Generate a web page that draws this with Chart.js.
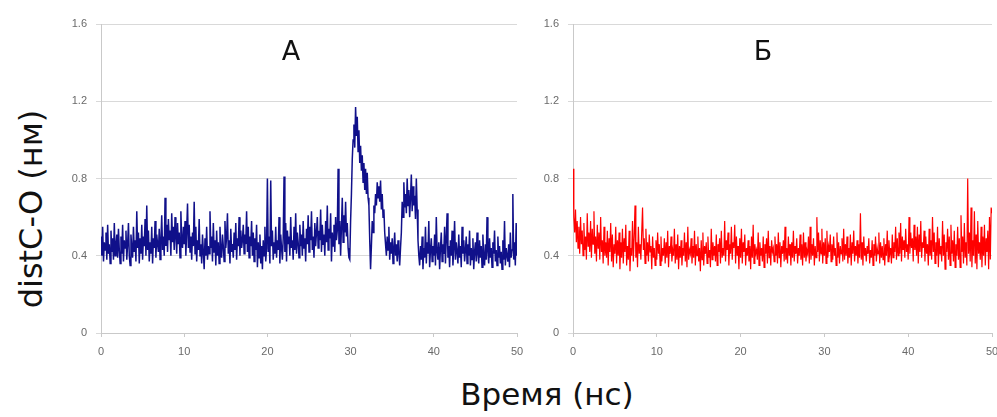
<!DOCTYPE html>
<html>
<head>
<meta charset="utf-8">
<script src="https://cdn.jsdelivr.net/npm/chart.js@4.4.1/dist/chart.umd.min.js"></script>
<style>
  html, body { margin:0; padding:0; background:#fff; }
  #wrap { position:relative; width:997px; height:417px; overflow:hidden; background:#fff; }
  canvas { position:absolute; top:0; }
  .txt { position:absolute; white-space:nowrap; line-height:1; color:#111; font-family:'DejaVu Sans', sans-serif; transform:translate(-50%,-50%); }
</style>
</head>
<body>
<div id="wrap">
  <canvas id="cA" width="480" height="370" style="left:60px"></canvas>
  <canvas id="cB" width="480" height="370" style="left:532px"></canvas>
  <div class="txt" style="left:291px; top:50px; font-size:27px;">А</div>
  <div class="txt" style="left:763px; top:50px; font-size:27px;">Б</div>
  <div class="txt" style="left:31px; top:209px; font-size:32px; transform:translate(-50%,-50%) rotate(-90deg);">distC-O (нм)</div>
  <div class="txt" style="left:547px; top:394px; font-size:31px;">Время (нс)</div>
</div>
<script>
// ---- data ----
const timeStep = 0.1;        // ns between samples
const xTicks = [0, 10, 20, 30, 40, 50];
const yTicks = [0, 0.4, 0.8, 1.2, 1.6];

// Panel A (blue), one row per nanosecond
const distA = [
  0.50,0.40,0.55,0.37,0.47,0.43,0.52,0.38,0.56,0.41,
  0.46,0.36,0.53,0.42,0.49,0.38,0.57,0.40,0.45,0.51,
  0.39,0.54,0.43,0.36,0.50,0.41,0.56,0.37,0.48,0.44,
  0.53,0.38,0.46,0.57,0.40,0.35,0.51,0.44,0.39,0.55,
  0.42,0.48,0.37,0.63,0.44,0.52,0.36,0.49,0.41,0.56,
  0.38,0.50,0.45,0.59,0.40,0.66,0.43,0.53,0.37,0.47,
  0.41,0.55,0.36,0.49,0.44,0.58,0.39,0.51,0.46,0.42,
  0.54,0.38,0.48,0.61,0.43,0.50,0.40,0.70,0.45,0.56,
  0.42,0.59,0.48,0.53,0.40,0.62,0.47,0.55,0.43,0.60,
  0.50,0.41,0.57,0.46,0.52,0.39,0.63,0.48,0.44,0.55,
  0.46,0.58,0.40,0.53,0.67,0.44,0.56,0.42,0.50,0.38,
  0.52,0.45,0.68,0.41,0.55,0.37,0.48,0.43,0.59,0.40,
  0.46,0.36,0.51,0.42,0.33,0.49,0.40,0.55,0.38,0.45,
  0.41,0.63,0.44,0.50,0.37,0.57,0.42,0.48,0.35,0.53,
  0.40,0.47,0.36,0.55,0.43,0.39,0.51,0.45,0.37,0.58,
  0.44,0.50,0.62,0.41,0.48,0.36,0.54,0.42,0.46,0.39,
  0.52,0.43,0.57,0.38,0.49,0.45,0.60,0.40,0.53,0.44,
  0.48,0.56,0.41,0.51,0.46,0.63,0.42,0.55,0.39,0.50,
  0.45,0.58,0.40,0.52,0.37,0.49,0.43,0.56,0.34,0.47,
  0.39,0.51,0.36,0.45,0.33,0.48,0.40,0.55,0.37,0.44,
  0.80,0.42,0.50,0.36,0.79,0.45,0.53,0.38,0.47,0.41,
  0.55,0.39,0.48,0.43,0.60,0.36,0.51,0.44,0.38,0.49,
  0.81,0.42,0.57,0.37,0.53,0.46,0.50,0.40,0.60,0.44,
  0.48,0.38,0.55,0.43,0.62,0.41,0.52,0.47,0.39,0.56,
  0.45,0.51,0.40,0.58,0.44,0.49,0.37,0.54,0.46,0.61,
  0.42,0.55,0.48,0.63,0.43,0.50,0.39,0.57,0.45,0.52,
  0.60,0.44,0.53,0.48,0.64,0.42,0.56,0.46,0.51,0.40,
  0.58,0.47,0.66,0.43,0.54,0.49,0.62,0.37,0.52,0.45,
  0.56,0.42,0.60,0.48,0.53,0.85,0.46,0.58,0.40,0.55,
  0.70,0.47,0.61,0.52,0.68,0.50,0.57,0.44,0.39,0.38,
  0.58,0.72,0.90,1.00,1.08,0.96,1.17,1.02,1.12,0.94,
  1.05,0.88,0.97,0.84,0.92,0.78,0.88,0.74,0.85,0.72,
  0.83,0.70,0.66,0.48,0.33,0.45,0.58,0.52,0.66,0.62,
  0.72,0.66,0.78,0.70,0.76,0.68,0.79,0.64,0.72,0.60,
  0.64,0.52,0.46,0.40,0.50,0.43,0.55,0.38,0.47,0.41,
  0.49,0.36,0.44,0.52,0.40,0.46,0.37,0.48,0.42,0.35,
  0.44,0.52,0.68,0.60,0.78,0.65,0.72,0.62,0.80,0.66,
  0.74,0.60,0.70,0.82,0.63,0.76,0.66,0.71,0.59,0.80,
  0.64,0.48,0.40,0.35,0.45,0.38,0.50,0.33,0.44,0.39,
  0.55,0.36,0.47,0.41,0.58,0.34,0.43,0.49,0.37,0.45,
  0.40,0.51,0.35,0.60,0.42,0.38,0.47,0.33,0.44,0.52,
  0.37,0.46,0.41,0.55,0.36,0.49,0.62,0.39,0.45,0.34,
  0.48,0.40,0.53,0.35,0.44,0.58,0.38,0.47,0.42,0.36,
  0.51,0.39,0.45,0.34,0.55,0.41,0.48,0.37,0.43,0.50,
  0.36,0.46,0.40,0.53,0.35,0.44,0.38,0.49,0.33,0.42,
  0.47,0.37,0.52,0.41,0.36,0.48,0.39,0.45,0.34,0.51,
  0.40,0.35,0.46,0.38,0.60,0.42,0.36,0.49,0.39,0.44,
  0.34,0.47,0.41,0.53,0.37,0.43,0.35,0.50,0.39,0.45,
  0.36,0.42,0.33,0.48,0.38,0.58,0.35,0.44,0.40,0.37,
  0.46,0.34,0.52,0.39,0.43,0.72,0.38,0.47,0.35,0.57,
  0.40
];

// Panel Б (red), one row per nanosecond
const distB = [
  0.85,0.60,0.52,0.64,0.47,0.58,0.44,0.55,0.41,0.60,
  0.46,0.53,0.40,0.57,0.43,0.50,0.38,0.62,0.45,0.52,
  0.42,0.58,0.39,0.54,0.46,0.63,0.41,0.50,0.37,0.56,
  0.44,0.52,0.38,0.60,0.42,0.48,0.36,0.55,0.40,0.47,
  0.39,0.53,0.35,0.49,0.42,0.57,0.37,0.51,0.34,0.46,
  0.41,0.55,0.36,0.48,0.40,0.52,0.33,0.47,0.39,0.54,
  0.36,0.49,0.42,0.56,0.35,0.45,0.38,0.53,0.32,0.44,
  0.40,0.58,0.37,0.50,0.66,0.39,0.47,0.34,0.55,0.41,
  0.46,0.38,0.52,0.65,0.43,0.49,0.36,0.54,0.40,0.47,
  0.37,0.51,0.42,0.45,0.33,0.50,0.39,0.44,0.35,0.48,
  0.38,0.52,0.41,0.46,0.35,0.50,0.37,0.44,0.40,0.49,
  0.36,0.47,0.39,0.53,0.34,0.45,0.41,0.50,0.37,0.43,
  0.40,0.54,0.36,0.46,0.38,0.51,0.33,0.45,0.39,0.48,
  0.35,0.44,0.40,0.52,0.37,0.47,0.34,0.55,0.38,0.43,
  0.41,0.49,0.36,0.45,0.39,0.53,0.35,0.46,0.40,0.50,
  0.37,0.44,0.32,0.48,0.38,0.52,0.35,0.45,0.41,0.47,
  0.36,0.50,0.39,0.43,0.34,0.54,0.38,0.47,0.40,0.45,
  0.37,0.51,0.35,0.46,0.42,0.49,0.36,0.53,0.39,0.44,
  0.40,0.58,0.37,0.48,0.43,0.52,0.35,0.46,0.41,0.55,
  0.38,0.47,0.44,0.56,0.36,0.50,0.40,0.45,0.33,0.49,
  0.39,0.54,0.36,0.47,0.42,0.51,0.35,0.44,0.40,0.48,
  0.37,0.45,0.33,0.50,0.39,0.56,0.36,0.46,0.41,0.43,
  0.38,0.52,0.35,0.47,0.40,0.44,0.37,0.50,0.34,0.46,
  0.41,0.49,0.36,0.53,0.39,0.45,0.35,0.48,0.42,0.44,
  0.37,0.50,0.40,0.46,0.36,0.52,0.39,0.47,0.34,0.45,
  0.41,0.48,0.37,0.55,0.38,0.44,0.36,0.50,0.40,0.46,
  0.35,0.47,0.39,0.53,0.37,0.45,0.41,0.49,0.36,0.44,
  0.40,0.51,0.38,0.46,0.35,0.52,0.39,0.47,0.37,0.43,
  0.41,0.50,0.36,0.55,0.38,0.46,0.40,0.49,0.35,0.45,
  0.39,0.60,0.42,0.52,0.37,0.48,0.41,0.54,0.36,0.47,
  0.40,0.49,0.36,0.53,0.39,0.45,0.42,0.51,0.37,0.46,
  0.38,0.50,0.40,0.44,0.35,0.52,0.39,0.47,0.36,0.45,
  0.41,0.49,0.37,0.54,0.38,0.46,0.40,0.50,0.36,0.44,
  0.39,0.51,0.35,0.47,0.41,0.53,0.37,0.45,0.40,0.48,
  0.36,0.46,0.39,0.62,0.38,0.47,0.35,0.50,0.40,0.44,
  0.37,0.45,0.41,0.49,0.36,0.43,0.39,0.48,0.35,0.46,
  0.40,0.50,0.37,0.44,0.41,0.52,0.36,0.47,0.39,0.45,
  0.38,0.49,0.35,0.46,0.40,0.53,0.37,0.48,0.41,0.44,
  0.36,0.51,0.39,0.47,0.42,0.55,0.38,0.49,0.40,0.52,
  0.41,0.57,0.37,0.50,0.43,0.48,0.39,0.54,0.42,0.46,
  0.38,0.60,0.41,0.52,0.44,0.49,0.37,0.56,0.43,0.50,
  0.40,0.55,0.36,0.51,0.42,0.58,0.39,0.47,0.44,0.53,
  0.37,0.50,0.41,0.46,0.35,0.54,0.40,0.48,0.38,0.60,
  0.42,0.52,0.36,0.47,0.40,0.55,0.34,0.49,0.41,0.45,
  0.37,0.58,0.40,0.51,0.33,0.47,0.42,0.54,0.38,0.50,
  0.35,0.56,0.41,0.48,0.37,0.53,0.34,0.46,0.40,0.55,
  0.38,0.49,0.34,0.61,0.42,0.50,0.36,0.57,0.39,0.47,
  0.35,0.80,0.41,0.52,0.37,0.65,0.34,0.48,0.40,0.63,
  0.36,0.51,0.33,0.58,0.41,0.47,0.38,0.55,0.34,0.50,
  0.40,0.56,0.35,0.49,0.42,0.53,0.33,0.60,0.38,0.65,
  0.62
];

// ---- chart construction ----
function toPoints(arr) { return arr.map((v, i) => ({ x: +(i * timeStep).toFixed(2), y: v })); }

const tickFont = { family: "'Liberation Sans', Arial, sans-serif", size: 11 };
const gridCol = '#d9d9d9';
const axisCol = '#c9c9c9';

function makeChart(id, data, color, width, rightPad) {
  return new Chart(document.getElementById(id), {
    type: 'line',
    data: { datasets: [{ data: toPoints(data), borderColor: color, borderWidth: width, pointRadius: 0, tension: 0, fill: false }] },
    options: {
      responsive: false, animation: false, events: [],
      layout: { padding: { top: 24, right: rightPad, bottom: 0, left: 0 } },
      plugins: { legend: { display: false }, tooltip: { enabled: false }, title: { display: false } },
      scales: {
        x: {
          type: 'linear', min: xTicks[0], max: xTicks[xTicks.length - 1],
          afterBuildTicks: s => { s.ticks = xTicks.map(v => ({ value: v })); },
          afterFit: s => { s.height = 37; },
          ticks: { font: tickFont, color: '#6a6a6a', padding: 8, maxRotation: 0, autoSkip: false },
          grid: { drawOnChartArea: false, drawTicks: true, tickLength: 4, color: axisCol },
          border: { color: axisCol, width: 1 }
        },
        y: {
          min: yTicks[0], max: yTicks[yTicks.length - 1],
          afterBuildTicks: s => { s.ticks = yTicks.map(v => ({ value: v })); },
          afterFit: s => { s.width = 41; },
          ticks: { font: tickFont, color: '#6a6a6a', padding: 9, callback: v => String(v) },
          grid: { color: gridCol, tickLength: 5, drawTicks: true },
          border: { color: axisCol, width: 1 }
        }
      }
    }
  });
}

makeChart('cA', distA, '#10108a', 1.5, 23);
makeChart('cB', distB, '#ff0000', 1.2, 20);
</script>
</body>
</html>
